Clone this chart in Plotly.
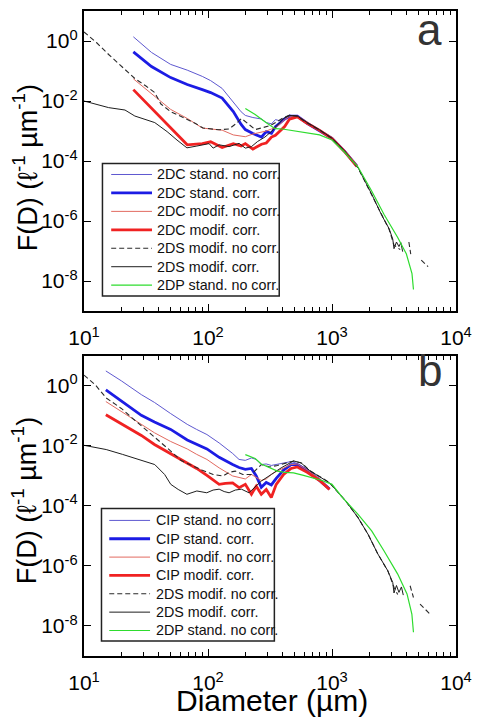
import plotly.graph_objects as go

# ---------------- panel (a): 2DC, 2DS and 2DP size distributions ----------------
d_2dc = [25, 35, 50, 68, 90, 105, 130, 160, 185, 200, 230, 270, 295, 325, 350,
         380, 415, 455, 525, 630, 795, 1000, 1260, 1585]
f_2dc_stand_nocorr = [1.38, 0.417, 0.166, 0.107, 0.0661, 0.0479, 0.0263, 8.91e-3, 4.37e-3,
                      3.31e-3, 2.82e-3, 2.51e-3, 1.91e-3, 1.74e-3, 2.40e-3, 2.19e-3, 2.82e-3,
                      3.39e-3, 3.02e-3, 1.82e-3, 1.07e-3, 5.89e-4, 2.19e-4, 7.24e-5]
f_2dc_stand_corr = [0.437, 0.141, 0.0603, 0.0355, 0.0240, 0.0191, 0.0126, 4.47e-3, 1.66e-3,
                    1.12e-3, 8.32e-4, 6.31e-4, 9.55e-4, 8.32e-4, 1.41e-3, 1.91e-3, 2.51e-3,
                    3.16e-3, 3.16e-3, 1.82e-3, 1.05e-3, 5.75e-4, 2.14e-4, 6.92e-5]
f_2dc_modif_nocorr = [0.0550, 0.0178, 5.25e-3, 2.63e-3, 1.26e-3, 1.17e-3, 1.07e-3, 7.41e-4,
                      6.61e-4, 6.46e-4, 7.94e-4, 8.91e-4, 1.0e-3, 1.17e-3, 1.32e-3, 1.66e-3,
                      2.40e-3, 3.16e-3, 3.02e-3, 1.82e-3, 1.07e-3, 6.03e-4, 2.29e-4, 7.41e-5]
f_2dc_modif_corr = [0.0240, 5.75e-3, 1.32e-3, 3.47e-4, 3.80e-4, 4.37e-4, 2.82e-4, 3.80e-4,
                    3.16e-4, 3.80e-4, 2.51e-4, 3.63e-4, 3.98e-4, 6.31e-4, 7.24e-4, 1.0e-3,
                    1.41e-3, 2.51e-3, 2.95e-3, 1.82e-3, 1.05e-3, 5.62e-4, 2.09e-4, 6.61e-5]

d_2ds_nocorr_a = [10, 12.6, 15.8, 20.0, 25.7, 31.6, 37.2, 41.7, 50.1, 63.1, 79.4, 91.2, 110,
                  123, 148, 170, 186, 209, 240, 269, 316, 363, 407, 457, 525, 631, 794, 1000,
                  1259, 1622, 2089, 2512, 2884, 3162, 3548, 3800,
                  4169, 4315, 4700, 5248, 5754, 5957]
f_2ds_nocorr_a = [2.0, 0.891, 0.355, 0.141, 0.0562, 0.0316, 0.0191, 7.94e-3, 4.37e-3, 2.82e-3,
                  1.78e-3, 1.26e-3, 1.12e-3, 1.10e-3, 1.17e-3, 1.82e-3, 2.63e-3, 1.78e-3,
                  1.12e-3, 1.26e-3, 1.51e-3, 2.09e-3, 2.82e-3, 3.39e-3, 3.09e-3, 1.86e-3,
                  1.07e-3, 5.62e-4, 2.14e-4, 5.89e-5, 7.59e-6, 1.51e-6, 5.37e-7, 1.58e-7,
                  1.12e-7, None, 2.0e-7, 7.94e-8, None, 5.01e-8, 3.55e-8, 3.02e-8]

d_2ds_corr_a = [10, 15.8, 21.4, 25.7, 37.2, 46.8, 56.2, 67.6, 81.3, 91.2, 102, 110, 123, 148,
                178, 200, 224, 251, 288, 324, 363, 407, 457, 525, 631, 794, 1000, 1259, 1622,
                2089, 2512, 2884, 3090, 3162, 3311, 3467, 3589, 3715]
f_2ds_corr_a = [1.0e-2, 6.03e-3, 5.01e-3, 3.16e-3, 1.91e-3, 9.55e-4, 5.01e-4, 2.75e-4,
                3.16e-4, 3.55e-4, 3.80e-4, 2.69e-4, 3.47e-4, 3.02e-4, 3.89e-4, 2.69e-4,
                3.02e-4, 4.47e-4, 6.31e-4, 9.55e-4, 1.58e-3, 2.63e-3, 3.31e-3, 3.16e-3,
                1.91e-3, 1.10e-3, 5.75e-4, 2.19e-4, 6.03e-5, 7.94e-6, 1.58e-6, 5.62e-7,
                2.51e-7, 1.20e-7, 2.0e-7, 1.41e-7, 1.91e-7, 9.55e-8]

d_2dp_a = [200, 240, 288, 324, 347, 398, 457, 550, 661, 794, 1000, 1259, 1622, 2089, 2630,
           3388, 3981, 4416, 4539]
f_2dp_a = [5.62e-3, 3.55e-3, 2.04e-3, 1.41e-3, 1.20e-3, 1.17e-3, 1.07e-3, 9.55e-4, 8.71e-4,
           7.41e-4, 5.01e-4, 2.0e-4, 6.31e-5, 1.0e-5, 1.66e-6, 2.82e-7, 7.94e-8, 1.78e-8,
           5.25e-9]

# ---------------- panel (b): CIP, 2DS and 2DP size distributions ----------------
d_cip = [15, 20, 29, 37, 50, 68, 81, 98, 123, 138, 158, 178, 200, 224, 245, 269, 295, 324,
         355, 407, 468, 525, 631, 794, 955]
f_cip_stand_nocorr = [3.16, 1.48, 0.513, 0.282, 0.120, 0.0525, 0.0355, 0.0240, 0.0126, 8.71e-3,
                      5.62e-3, 3.55e-3, 3.31e-3, 3.98e-3, 3.55e-3, 2.40e-3, 2.51e-3, 2.24e-3,
                      2.40e-3, 2.63e-3, 3.02e-3, 2.63e-3, 1.66e-3, 8.32e-4, 3.98e-4]
f_cip_stand_corr = [0.741, 0.316, 0.105, 0.0631, 0.0355, 0.0158, 0.0112, 7.94e-3, 4.17e-3,
                    3.16e-3, 2.40e-3, 1.91e-3, 1.66e-3, 1.78e-3, 1.0e-3, 4.17e-4, 6.03e-4,
                    5.01e-4, 8.32e-4, 1.58e-3, 2.40e-3, 2.40e-3, 1.51e-3, 7.08e-4, 3.63e-4]
f_cip_modif_nocorr = [0.302, 0.141, 0.0501, 0.0275, 0.0141, 7.94e-3, 5.25e-3, 3.55e-3, 1.86e-3,
                      1.41e-3, 1.0e-3, 8.91e-4, 7.94e-4, 1.12e-3, 8.91e-4, 7.08e-4, 7.94e-4,
                      1.12e-3, 1.41e-3, 1.78e-3, 2.40e-3, 2.51e-3, 1.58e-3, 7.94e-4, 3.80e-4]
f_cip_modif_corr = [0.110, 0.0562, 0.0224, 0.0112, 5.62e-3, 2.82e-3, 1.78e-3, 1.05e-3, 5.25e-4,
                    5.62e-4, 5.89e-4, 4.07e-4, 5.25e-4, 2.45e-4, 4.57e-4, 2.45e-4, 3.55e-4,
                    1.91e-4, 5.25e-4, 1.12e-3, 1.78e-3, 2.0e-3, 1.32e-3, 7.08e-4, 3.55e-4]

d_2ds_nocorr_b = [10, 12.3, 15.1, 20.0, 24.5, 29.5, 37.2, 50.1, 60.3, 70.8, 89.1, 110, 132,
                  148, 166, 191, 224, 269, 316, 363, 417, 490, 575, 661, 794, 955, 1288, 1622,
                  1950, 2344, 2818, 3162, 3388, 3800, 4266, 4416, 4539, 4800, 5129, 5623, 6166]
f_2ds_nocorr_b = [2.29, 1.10, 0.398, 0.178, 0.0851, 0.0447, 0.0186, 6.76e-3, 3.31e-3, 2.40e-3,
                  1.58e-3, 1.12e-3, 1.0e-3, 1.32e-3, 1.45e-3, 1.12e-3, 1.12e-3, 2.40e-3, 2.0e-3,
                  2.24e-3, 2.63e-3, 3.16e-3, 2.63e-3, 1.51e-3, 9.55e-4, 6.03e-4, 1.48e-4,
                  4.07e-5, 1.15e-5, 2.51e-6, 6.92e-7, 1.95e-7, 1.12e-7, None, 2.19e-7, 1.41e-7,
                  8.91e-8, None, 5.37e-8, 3.80e-8, 2.51e-8]

d_2ds_corr_b = [10, 15.1, 20.4, 28.2, 37.2, 44.7, 50.1, 57.5, 67.6, 81.3, 97.7, 110, 123, 135,
                148, 166, 186, 214, 240, 269, 324, 389, 490, 562, 661, 955, 1288, 1622, 1950,
                2344, 2818, 3090, 3162, 3311, 3467, 3631, 3758]
f_2ds_corr_b = [1.05e-2, 7.59e-3, 5.25e-3, 3.55e-3, 2.40e-3, 1.12e-3, 5.25e-4, 3.55e-4,
                2.45e-4, 3.16e-4, 2.75e-4, 3.39e-4, 3.63e-4, 3.02e-4, 2.75e-4, 3.39e-4,
                3.63e-4, 2.75e-4, 4.47e-4, 6.76e-4, 1.12e-3, 1.86e-3, 3.16e-3, 2.75e-3,
                1.51e-3, 5.89e-4, 1.48e-4, 4.07e-5, 1.15e-5, 2.51e-6, 6.92e-7, 2.82e-7,
                1.26e-7, 2.24e-7, 1.32e-7, 2.0e-7, 1.07e-7]

d_2dp_b = [200, 240, 269, 316, 363, 417, 490, 589, 708, 832, 1000, 1202, 1622, 2089, 2630,
           3388, 4027, 4406, 4539]
f_2dp_b = [5.13e-3, 3.80e-3, 2.51e-3, 1.91e-3, 1.45e-3, 1.32e-3, 1.26e-3, 1.05e-3, 8.71e-4,
           7.08e-4, 5.25e-4, 2.0e-4, 5.25e-5, 1.48e-5, 3.16e-6, 5.37e-7, 1.17e-7, 2.51e-8,
           6.17e-9]

# tick labels
x_tickvals = [10, 100, 1000, 10000]
x_ticktext = ["10<sup>1</sup>", "10<sup>2</sup>", "10<sup>3</sup>", "10<sup>4</sup>"]
y_tickvals = [1, 1e-2, 1e-4, 1e-6, 1e-8]
y_ticktext = ["10<sup>0</sup>", "10<sup>-2</sup>", "10<sup>-4</sup>", "10<sup>-6</sup>",
              "10<sup>-8</sup>"]

# line styles per series: (colour, width, dash)
STY = {
    "stand_nocorr": ("#5e58d0", 1.0, "solid"),
    "stand_corr": ("#1c1ce4", 2.8, "solid"),
    "modif_nocorr": ("#e26a60", 1.0, "solid"),
    "modif_corr": ("#f02222", 2.8, "solid"),
    "2ds_nocorr": ("#2a2a2a", 1.1, "5px,3px"),
    "2ds_corr": ("#1e1e1e", 1.0, "solid"),
    "2dp": ("#2edc2e", 1.2, "solid"),
}

panel_a = [
    ("2DC stand. no corr.", d_2dc, f_2dc_stand_nocorr, "stand_nocorr"),
    ("2DC stand. corr.", d_2dc, f_2dc_stand_corr, "stand_corr"),
    ("2DC modif. no corr.", d_2dc, f_2dc_modif_nocorr, "modif_nocorr"),
    ("2DC modif. corr.", d_2dc, f_2dc_modif_corr, "modif_corr"),
    ("2DS modif. no corr.", d_2ds_nocorr_a, f_2ds_nocorr_a, "2ds_nocorr"),
    ("2DS modif. corr.", d_2ds_corr_a, f_2ds_corr_a, "2ds_corr"),
    ("2DP stand. no corr.", d_2dp_a, f_2dp_a, "2dp"),
]
panel_b = [
    ("CIP stand. no corr.", d_cip, f_cip_stand_nocorr, "stand_nocorr"),
    ("CIP stand. corr.", d_cip, f_cip_stand_corr, "stand_corr"),
    ("CIP modif. no corr.", d_cip, f_cip_modif_nocorr, "modif_nocorr"),
    ("CIP modif. corr.", d_cip, f_cip_modif_corr, "modif_corr"),
    ("2DS modif. no corr.", d_2ds_nocorr_b, f_2ds_nocorr_b, "2ds_nocorr"),
    ("2DS modif. corr.", d_2ds_corr_b, f_2ds_corr_b, "2ds_corr"),
    ("2DP stand. no corr.", d_2dp_b, f_2dp_b, "2dp"),
]

W, H = 481, 717
L, R, T, B = 84, 467, 9, 656          # plot area in pixels
A_TOP, A_BOT = 9, 310                  # panel a frame (pixels)
B_TOP, B_BOT = 355, 656                # panel b frame (pixels)
FONT = "Liberation Sans, Arial, Helvetica, sans-serif"


def fx(px):
    return (px - L) / (R - L)


def fy(py):
    return (B - py) / (B - T)


fig = go.Figure()
for name, d, f, key in panel_a:
    c, w, dash = STY[key]
    fig.add_trace(go.Scatter(x=d, y=f, mode="lines", name=name, showlegend=False,
                             line=dict(color=c, width=w, dash=dash),
                             xaxis="x2", yaxis="y2"))
for name, d, f, key in panel_b:
    c, w, dash = STY[key]
    fig.add_trace(go.Scatter(x=d, y=f, mode="lines", name=name, showlegend=False,
                             line=dict(color=c, width=w, dash=dash),
                             xaxis="x", yaxis="y"))

xa = dict(type="log", range=[0.99999, 4.00001], showline=True, linewidth=2.4, linecolor="black",
          mirror="ticks", ticks="inside", ticklen=7, tickwidth=1.3, tickcolor="black",
          tickmode="array", tickvals=x_tickvals, ticktext=x_ticktext, showgrid=False,
          zeroline=False, ticklabelstandoff=7, ticklabeloverflow="allow",
          tickfont=dict(family=FONT, size=21, color="black"),
          minor=dict(ticks="inside", ticklen=4, tickwidth=1, tickcolor="black",
                     tickmode="array",
                     tickvals=[m * 10 ** e for e in (1, 2, 3) for m in range(2, 10)],
                     showgrid=False))
ya = dict(type="log", range=[-9, 1], showline=True, linewidth=2.4, linecolor="black",
          mirror="ticks", ticks="inside", ticklen=7, tickwidth=1.3, tickcolor="black",
          tickmode="array", tickvals=y_tickvals, ticktext=y_ticktext, showgrid=False,
          zeroline=False, ticklabeloverflow="allow",
          tickfont=dict(family=FONT, size=21, color="black"))

fig.update_layout(
    width=W, height=H,
    margin=dict(l=L, r=W - R, t=T, b=H - B, pad=0),
    paper_bgcolor="white", plot_bgcolor="white",
    showlegend=False,
    xaxis=dict(xa, anchor="y", domain=[0, 1]),
    yaxis=dict(ya, anchor="x", domain=[0, fy(B_TOP)]),
    xaxis2=dict(xa, anchor="y2", domain=[0, 1]),
    yaxis2=dict(ya, anchor="x2", domain=[fy(A_BOT), 1]),
    font=dict(family=FONT, color="black"),
)

ann = []
shapes = []
ytitle = "F(D) (\u2113<sup>-1</sup> \u00b5m<sup>-1</sup>)"
for cy in (166, 500):
    ann.append(dict(text=ytitle, textangle=-90, x=fx(23), y=fy(cy), xref="paper",
                    yref="paper", xanchor="center", yanchor="middle", showarrow=False,
                    font=dict(family=FONT, size=27, color="black")))
ann.append(dict(text="Diameter (\u00b5m)", x=fx(278), y=fy(701), xref="paper", yref="paper",
                xanchor="center", yanchor="middle", showarrow=False,
                font=dict(family=FONT, size=30, color="black")))
ann.append(dict(text="a", x=fx(440), y=fy(28), xref="paper", yref="paper", xanchor="center",
                yanchor="middle", showarrow=False,
                font=dict(family=FONT, size=44, color="#333333")))
ann.append(dict(text="b", x=fx(440), y=fy(370), xref="paper", yref="paper", xanchor="center",
                yanchor="middle", showarrow=False,
                font=dict(family=FONT, size=44, color="#333333")))

# legend boxes: (series, box left/right/top/bottom, sample x0/x1, text x, first row y, step)
legends = [
    (panel_a, 103, 285, 162, 295, 112, 154, 157, 173, 18.5),
    (panel_b, 102, 280, 508, 641, 110, 152, 156, 520, 18.4),
]
for series, bx0, bx1, by0, by1, sx0, sx1, tx, ry, step in legends:
    shapes.append(dict(type="rect", xref="paper", yref="paper", x0=fx(bx0), x1=fx(bx1),
                       y0=fy(by1), y1=fy(by0), line=dict(color="#222222", width=1.5),
                       fillcolor="white", layer="above"))
    for i, (name, _, _, key) in enumerate(series):
        c, w, dash = STY[key]
        yy = fy(ry + i * step)
        shapes.append(dict(type="line", xref="paper", yref="paper", x0=fx(sx0), x1=fx(sx1),
                           y0=yy, y1=yy, line=dict(color=c, width=w, dash=dash),
                           layer="above"))
        ann.append(dict(text=name, x=fx(tx), y=yy, xref="paper", yref="paper",
                        xanchor="left", yanchor="middle", showarrow=False,
                        font=dict(family=FONT, size=14.3, color="#111111")))

fig.update_layout(annotations=ann, shapes=shapes)
fig.write_html("out.html")
